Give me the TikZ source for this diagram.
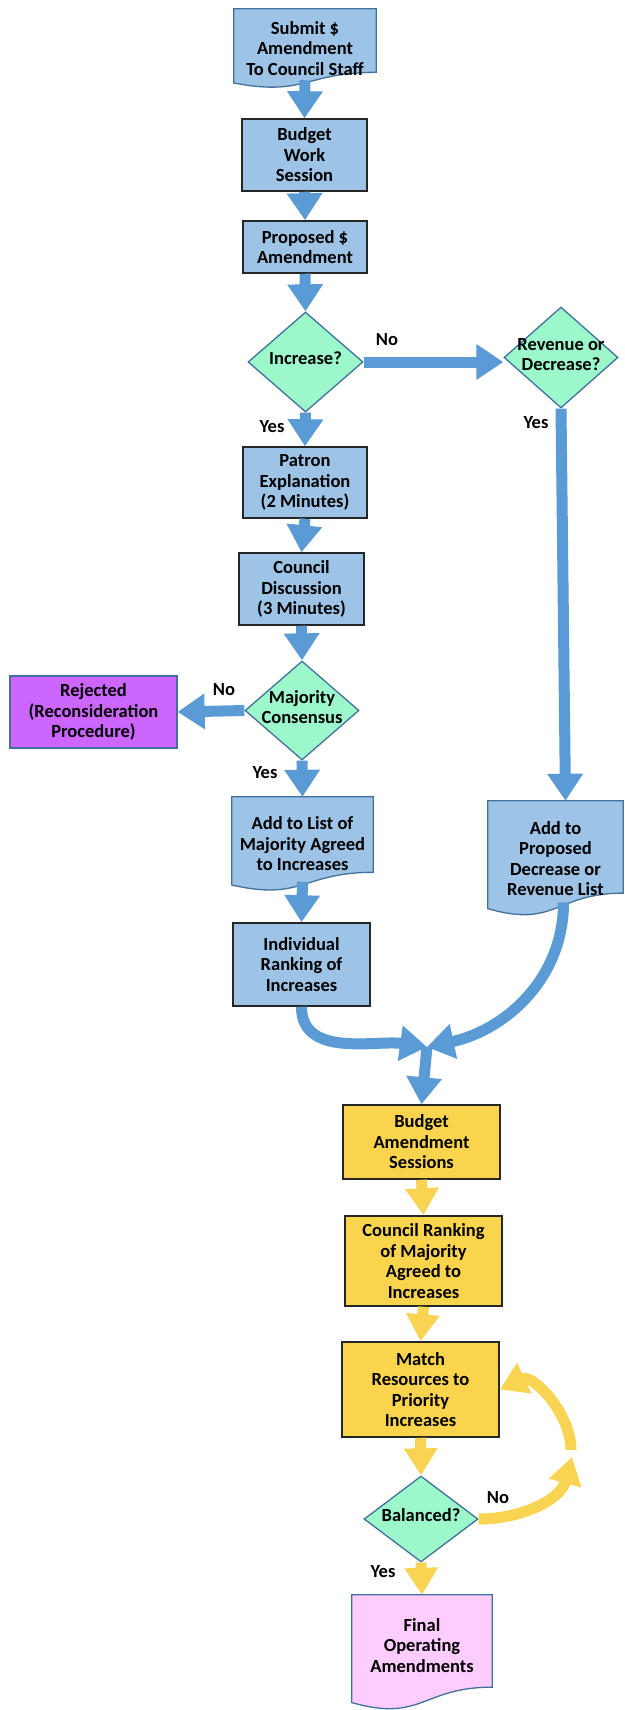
\documentclass[tikz,border=0pt]{standalone}
\usepackage{fontspec}
\setmainfont{Carlito}
\usetikzlibrary{shapes.geometric,arrows.meta,calc,backgrounds}

\definecolor{bluefill}{HTML}{9DC3E6}
\definecolor{bluearrow}{HTML}{5B9BD5}
\definecolor{dborder}{HTML}{41719C}
\definecolor{mint}{HTML}{9CF7CB}
\definecolor{purp}{HTML}{CC66FF}
\definecolor{yfill}{HTML}{F9D44C}
\definecolor{yarrow}{HTML}{F8D452}
\definecolor{pinkfill}{HTML}{FFCCFF}

\newcommand{\docshape}[2]{%
  \begin{scope}[on background layer]
    \path[fill=#2, draw=dborder, line width=1.3pt]
      (#1.north west) -- (#1.north east) -- ($(#1.north east)!0.8!(#1.south east)$)
      .. controls ($(#1.north)!0.8!(#1.south)$) and ($(#1.north)!1.107!(#1.south)$) ..
      ($(#1.north west)!0.934!(#1.south west)$) -- cycle;
  \end{scope}}
\newcommand{\dtxt}[1]{\smash{\makebox[0pt]{\raisebox{-3pt}{\begin{tabular}{@{}c@{}}#1\end{tabular}}}}}

\begin{document}
\begin{tikzpicture}[x=1pt,y=-1pt,
  every node/.style={font=\fontsize{18.5}{20.5}\selectfont\bfseries, align=center, inner sep=0pt},
  sz/.style 2 args={minimum width=#1pt, minimum height=#2pt},
  proc/.style={rectangle, draw=black!85, line width=1.5pt, fill=bluefill},
  procy/.style={proc, fill=yfill},
  docnode/.style={rectangle, draw=none},
  dec/.style={diamond, draw=dborder, line width=1.3pt, fill=mint},
  bar/.style={draw=bluearrow, line width=11pt, -{Triangle[width=34pt,length=27pt]}},
  ybar/.style={draw=yarrow, line width=11pt, -{Triangle[width=32pt,length=27pt]}},
  lab/.style={}
]
\path[use as bounding box] (0,0) rectangle (624,1710);
\begin{scope}[on background layer]
  \fill[white] (0,0) rectangle (624,1710);
\end{scope}

% nodes
\node[docnode, sz={142}{79}] (sub) at (305,48.5) {Submit \$\\Amendment\\To Council Staff};
\docshape{sub}{bluefill}
\node[proc, sz={125}{72}] (bws) at (304.5,155) {Budget\\Work\\Session};
\node[proc, sz={124}{52}] (pro) at (305,247) {Proposed \$\\Amendment};
\node[dec, sz={115}{100}] (inc) at (305.5,362) {\dtxt{Increase?}};
\node[dec, sz={114}{101}] (rev) at (561,357.5) {\dtxt{Revenue or\\Decrease?}};
\node[proc, sz={124}{71}] (pat) at (305,482.5) {Patron\\Explanation\\(2 Minutes)};
\node[proc, sz={125}{72}] (cd) at (301.5,589) {Council\\Discussion\\(3 Minutes)};
\node[dec, sz={114}{99}] (maj) at (302,710.5) {\dtxt{Majority\\Consensus}};
\node[rectangle, draw=dborder, line width=1.3pt, fill=purp, sz={167}{72}] (rej) at (93.5,712) {Rejected\\(Reconsideration\\Procedure)};
\node[docnode, sz={141}{94}] (addl) at (302.5,844) {Add to List of\\Majority Agreed\\to Increases};
\docshape{addl}{bluefill}
\node[proc, sz={137}{83}] (ind) at (301.5,964.5) {Individual\\Ranking of\\Increases};
\node[docnode, sz={135}{115}] (addp) at (555.5,858.5) {Add to\\Proposed\\Decrease or\\Revenue List};
\docshape{addp}{bluefill}
\node[procy, sz={157}{74}] (bam) at (421.5,1142) {Budget\\Amendment\\Sessions};
\node[procy, sz={157}{90}] (crk) at (423.5,1261) {Council Ranking\\of Majority\\Agreed to\\Increases};
\node[procy, sz={157}{95}] (mat) at (420.5,1389.5) {Match\\Resources to\\Priority\\Increases};
\node[dec, sz={114}{86}] (bal) at (421,1519) {\dtxt{Balanced?}};
\node[docnode, sz={140}{115}] (fin) at (422,1652.5) {Final\\Operating\\Amendments\\[-6pt]};
\docshape{fin}{pinkfill}

% labels
\node[lab] (l1) at (387,340) {No};
\node[lab] (l2) at (272,427) {Yes};
\node[lab] (l3) at (536,423) {Yes};
\node[lab] (l4) at (224,690) {No};
\node[lab] (l5) at (265,773) {Yes};
\node[lab] (l6) at (498,1498) {No};
\node[lab] (l7) at (383,1572) {Yes};

% coordinates
\coordinate (merge) at (427,1047);
\coordinate (loopin) at (572,1457);
\coordinate (loopout) at (571,1450);

% connectors
\draw[bar] ($(sub.north)!0.9!(sub.south)$) -- (bws.north);
\draw[bar] (bws.south) -- (pro.north);
\draw[bar] (pro.south) -- (inc.north);
\draw[bar] (inc.east) -- (inc.east -| rev.west);
\draw[bar] (inc.south) -- (pat.north);
\draw[bar] (pat.south) -- (cd.north);
\draw[bar] (cd.south) -- (maj.north);
\draw[bar] (maj.west) -- (rej.east);
\draw[bar] (maj.south) -- (addl.north);
\draw[bar] ($(addl.north)!0.9!(addl.south)$) -- (ind.north);
\draw[bar] (rev.south) -- ($(addp.north)+(10,0)$);
\draw[bar] (ind.south) to[out=-90,in=172] (merge);
\draw[bar] ($(addp.north)!0.88!(addp.south)+(8,0)$) to[out=-90,in=12] (merge);
\draw[bar] (merge) -- (bam.north);

\draw[ybar] (bam.south) -- (crk.north);
\draw[ybar] (crk.south) -- (mat.north);
\draw[ybar] (mat.south) -- (bal.north);
\draw[ybar] (bal.south) -- (fin.north);
\draw[ybar] (bal.east) to[out=0,in=-105] (loopin);
\draw[ybar] (loopout) to[out=90,in=25] (mat.east);
\end{tikzpicture}
\end{document}
